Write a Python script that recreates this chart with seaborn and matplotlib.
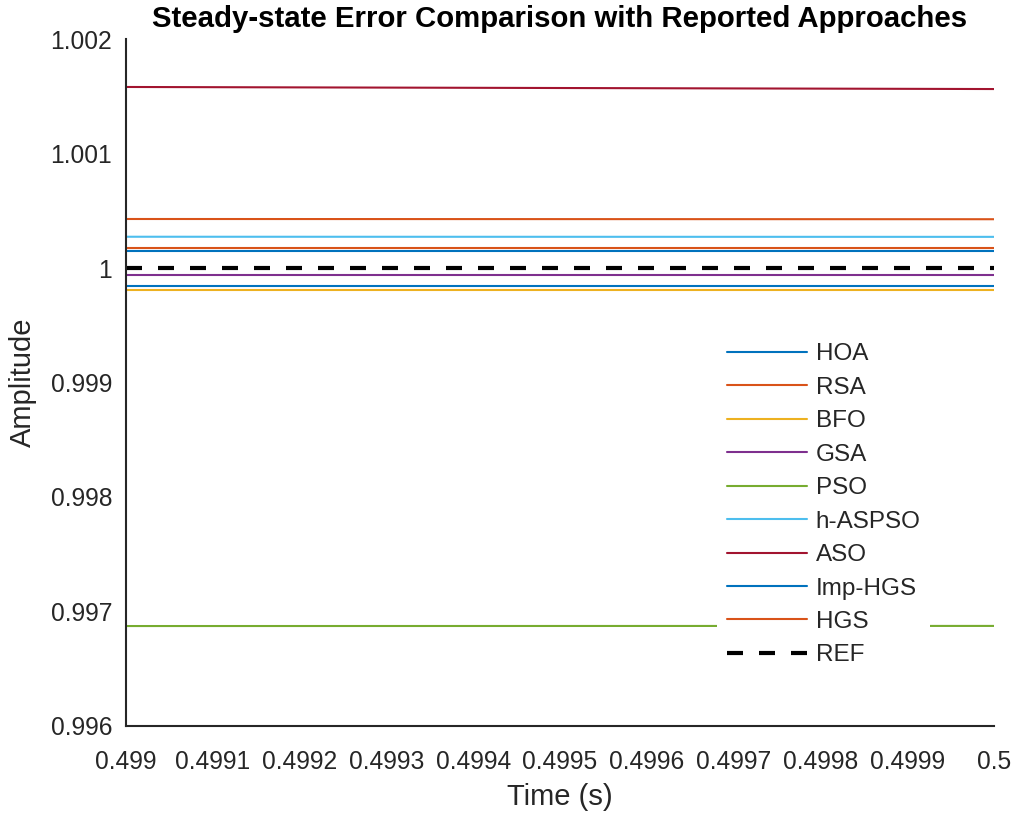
import matplotlib
matplotlib.use("Agg")
import matplotlib.pyplot as plt
from matplotlib.ticker import FuncFormatter
import seaborn as sns
import pandas as pd

# ---- data ----
time_s = [0.499, 0.5]
labels = ["HOA", "RSA", "BFO", "GSA", "PSO", "h-ASPSO", "ASO", "Imp-HGS", "HGS", "REF"]
hoa = [0.99984, 0.99984]
rsa = [1.000428, 1.000426]
bfo = [0.999808, 0.999808]
gsa = [0.999936, 0.999936]
pso = [0.996873, 0.996874]
h_aspso = [1.000273, 1.000272]
aso = [1.001581, 1.001563]
imp_hgs = [1.000148, 1.000148]
hgs = [1.000172, 1.000172]
ref = [1.0, 1.0]
series = [hoa, rsa, bfo, gsa, pso, h_aspso, aso, imp_hgs, hgs, ref]
colors = ["#0072BD", "#D95319", "#EDB120", "#7E2F8E", "#77AC30",
          "#4DBEEE", "#A2142F", "#0072BD", "#D95319", "#000000"]
x_ticks = [0.499, 0.4991, 0.4992, 0.4993, 0.4994, 0.4995, 0.4996, 0.4997, 0.4998, 0.4999, 0.5]
y_ticks = [0.996, 0.997, 0.998, 0.999, 1.0, 1.001, 1.002]

rows = []
for name, vals in zip(labels, series):
    for t, v in zip(time_s, vals):
        rows.append({"Time": t, "Amplitude": v, "Method": name})
df = pd.DataFrame(rows)

sns.set_style("white")
plt.rcParams["font.family"] = ["Liberation Sans", "DejaVu Sans"]

fig = plt.figure(figsize=(10.21, 8.16), dpi=100)
ax = fig.add_axes([0.1234, 0.1103, 0.8502, 0.8419])

for name, col in zip(labels, colors):
    sub = df[df["Method"] == name]
    if name == "REF":
        sns.lineplot(data=sub, x="Time", y="Amplitude", ax=ax, color=col,
                     linewidth=3, label=name, linestyle=(0, (3.84, 3.84)))
    else:
        sns.lineplot(data=sub, x="Time", y="Amplitude", ax=ax, color=col,
                     linewidth=1.5, label=name)

ax.set_xlim(0.499, 0.5)
ax.set_ylim(0.996, 1.002)
ax.set_xticks(x_ticks)
ax.set_yticks(y_ticks)
fmt = FuncFormatter(lambda v, p: "%g" % round(v, 6))
ax.xaxis.set_major_formatter(fmt)
ax.yaxis.set_major_formatter(fmt)

for s in ["top", "right"]:
    ax.spines[s].set_visible(False)
for s in ["left", "bottom"]:
    ax.spines[s].set_color("#262626")
    ax.spines[s].set_linewidth(1.5)

ax.tick_params(axis="both", direction="in", length=7, width=1.5, color="#262626",
               labelsize=17.7, labelcolor="#262626")
ax.tick_params(axis="x", pad=17)
ax.tick_params(axis="y", pad=10)

ax.set_xlabel("Time (s)", fontsize=21, color="#262626", labelpad=7)
ax.set_ylabel("Amplitude", fontsize=21, color="#262626", labelpad=10)
ax.set_title("Steady-state Error Comparison with Reported Approaches",
             fontsize=21.2, fontweight="bold", pad=9, color="black")

leg = ax.legend(loc="upper left", bbox_to_anchor=(0.681, 0.571), frameon=True,
                fontsize=17.5, handlelength=3.3, handletextpad=0.35,
                labelspacing=0.47, borderpad=0.4, borderaxespad=0)
leg.get_frame().set_edgecolor("none")
leg.get_frame().set_facecolor("white")
leg.get_frame().set_alpha(1)
leg.get_frame().set_boxstyle("square", pad=0)

fig.savefig("out.png", dpi=100)
